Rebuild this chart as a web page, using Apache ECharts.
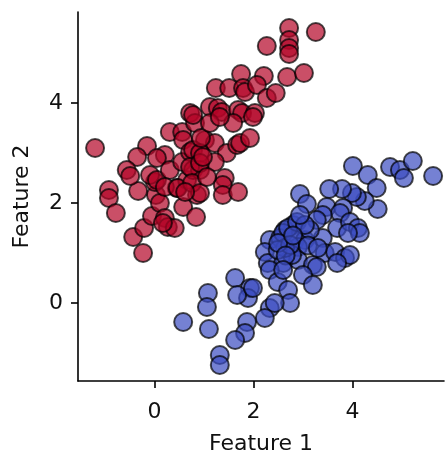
<!DOCTYPE html>
<html>
<head>
<meta charset="utf-8">
<script src="https://cdn.jsdelivr.net/npm/echarts@6/dist/echarts.min.js"></script>
<style>html,body{margin:0;padding:0;background:#fff}#c{width:445px;height:454px}</style>
</head>
<body>
<div id="c"></div>
<script>
// Class 1 (red) points [Feature 1, Feature 2]
const redPoints = [
  [-1.20,3.10],[-0.92,2.26],[-0.92,2.10],[-0.78,1.80],[-0.43,1.32],[-0.23,1.00],[-0.21,1.50],
  [-0.05,1.74],[0.03,2.16],[0.11,2.00],[0.21,1.70],[0.27,1.52],[0.41,1.50],[0.58,1.92],
  [0.84,1.72],[-0.33,2.24],[0.01,2.42],[0.45,2.30],[0.86,2.16],[-0.15,3.14],[-0.35,2.92],
  [-0.56,2.66],[-0.49,2.54],[-0.09,2.56],[0.05,2.46],[0.21,2.96],[0.05,2.90],[0.31,3.42],
  [0.56,3.42],[0.58,3.26],[0.72,3.80],[0.82,3.60],[0.31,2.66],[0.56,2.82],[0.72,3.02],
  [0.66,2.46],[0.78,2.66],[2.72,5.50],[3.26,5.42],[2.27,5.14],[2.72,5.26],[2.72,5.10],
  [2.72,4.98],[1.75,4.58],[2.21,4.54],[2.68,4.52],[3.02,4.60],[1.24,4.30],[1.51,4.30],
  [1.79,4.30],[1.83,4.22],[2.07,4.36],[2.27,4.10],[2.45,4.20],[1.12,3.92],[1.28,3.90],
  [1.36,3.82],[1.69,3.86],[1.77,3.80],[2.03,3.80],[1.99,3.72],[1.59,3.60],[0.78,3.76],
  [1.02,3.26],[1.22,3.20],[1.46,3.00],[1.67,3.16],[1.73,3.20],[1.93,3.30],[0.78,3.06],
  [0.92,3.00],[1.22,2.82],[0.92,2.66],[1.42,2.50],[0.72,2.72],[0.21,2.32],[0.47,2.30],
  [0.76,2.40],[0.92,2.20],[1.38,2.36],[1.38,2.16],[1.69,2.22],[0.17,1.60],[0.94,3.30],
  [0.92,2.80],[1.12,3.60],[1.32,3.72],[0.98,2.92],[0.62,2.22],[1.06,2.52]
];
// Class 0 (blue) points [Feature 1, Feature 2]
const bluePoints = [
  [4.01,2.74],[4.31,2.56],[4.76,2.72],[4.96,2.66],[5.22,2.84],[5.04,2.50],[5.63,2.54],
  [4.49,2.30],[4.51,1.88],[4.25,2.04],[4.09,2.12],[3.99,2.20],[3.79,2.28],[3.53,2.28],
  [2.94,2.18],[3.08,1.98],[3.48,1.92],[3.81,1.90],[3.75,1.80],[3.40,1.76],[3.28,1.66],
  [3.69,1.50],[3.95,1.62],[4.11,1.50],[4.15,1.40],[3.91,1.40],[2.80,1.56],[2.64,1.46],
  [2.33,1.26],[2.54,1.30],[2.84,1.26],[3.04,1.26],[3.40,1.30],[2.90,1.12],[2.23,1.02],
  [2.29,0.80],[2.60,0.80],[2.33,0.66],[2.90,0.86],[3.20,0.76],[3.44,1.00],[3.65,1.02],
  [3.85,0.90],[3.95,0.96],[3.69,0.80],[3.28,0.72],[3.00,0.56],[2.49,0.42],[2.70,0.26],
  [2.74,0.00],[3.20,0.36],[1.63,0.50],[1.93,0.30],[1.89,0.10],[2.33,-0.10],[2.43,0.00],
  [2.23,-0.30],[1.87,-0.38],[1.83,-0.60],[1.63,-0.74],[1.08,0.20],[1.06,-0.08],[0.58,-0.38],
  [1.10,-0.52],[1.32,-1.04],[1.32,-1.24],[1.67,0.16],[1.99,0.30],[2.60,1.40],[2.70,1.50],
  [2.88,1.62],[2.78,0.96],[2.64,1.10],[2.49,1.06],[2.74,1.16],[3.14,1.46],[3.04,1.56],
  [2.94,1.76],[2.50,1.20],[2.80,1.35],[3.10,1.15],[2.65,0.95],[3.30,1.10],[2.60,0.66]
];
const tickValues = [0, 2, 4];
const xName = 'Feature 1';
const yName = 'Feature 2';

const font = 'DejaVu Sans';
const chart = echarts.init(document.getElementById('c'), null, {renderer: 'canvas'});
function axis(name, min, max, gap, margin) {
  return {
    type: 'value', min: min, max: max, name: name,
    nameLocation: 'middle', nameGap: gap,
    nameTextStyle: {fontFamily: font, fontSize: 22, color: '#111'},
    splitLine: {show: false},
    axisLine: {show: true, onZero: false, lineStyle: {color: '#000', width: 1.6}},
    axisTick: {show: true, inside: false, length: 7, customValues: tickValues, lineStyle: {color: '#000', width: 1.6}},
    axisLabel: {show: true, customValues: tickValues, margin: margin, fontFamily: font, fontSize: 22, color: '#111'}
  };
}
const sym = (color) => ({
  type: 'scatter', symbol: 'circle', symbolSize: 18,
  itemStyle: {color: color, borderColor: '#000', borderWidth: 2, opacity: 0.7},
  emphasis: {disabled: true}, animation: false
});
chart.setOption({
  animation: false,
  grid: {left: 78, right: 1, top: 12, bottom: 73, containLabel: false, outerBoundsMode: 'none'},
  xAxis: axis(xName, -1.545, 5.85, 52, 20),
  yAxis: axis(yName, -1.56, 5.82, 45, 15),
  series: [
    Object.assign(sym('#b40426'), {data: redPoints}),
    Object.assign(sym('#3b4cc0'), {data: bluePoints})
  ]
});
</script>
</body>
</html>
